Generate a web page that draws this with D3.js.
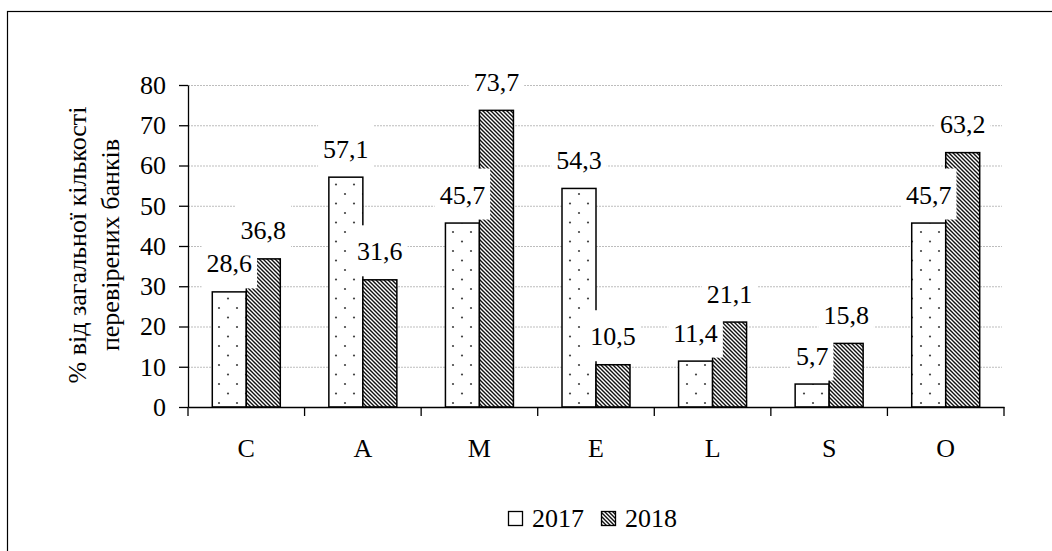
<!DOCTYPE html>
<html>
<head>
<meta charset="utf-8">
<script src="https://cdn.jsdelivr.net/npm/d3@7"></script>
<style>
  body { margin: 0; background: #fff; }
  svg { display: block; }
</style>
</head>
<body>
<div id="chart"></div>
<script>
var categories = ["C", "A", "M", "E", "L", "S", "O"];
var years = ["2017", "2018"];
var values2017 = [28.6, 57.1, 45.7, 54.3, 11.4, 5.7, 45.7];
var values2018 = [36.8, 31.6, 73.7, 10.5, 21.1, 15.8, 63.2];
var yTicks = [0, 10, 20, 30, 40, 50, 60, 70, 80];
var yTitle = ["% від загальної кількості", "перевірених банків"];

var width = 1052, height = 551;
var margins = {top: 85, right: 48, bottom: 144, left: 188};
var FONT = '"Liberation Serif", serif';
var fontSize = 26;

var svg = d3.select('#chart')
  .append('svg')
  .attr('width', width)
  .attr('height', height)
  .attr('font-family', FONT);

function serif(sel) {
  return sel.attr('font-family', FONT)
    .style('font-family', FONT)
    .style('font-size', fontSize + 'px')
    .attr('fill', '#000');
}

/* patterns: dots for 2017, diagonal hatch for 2018 */
var defs = svg.append('defs');
var dots = defs.append('pattern')
  .attr('id', 'dots')
  .attr('patternUnits', 'userSpaceOnUse')
  .attr('width', 18).attr('height', 19);
dots.append('rect').attr('width', 18).attr('height', 19).attr('fill', '#fff');
dots.append('circle').attr('cx', 3).attr('cy', 4).attr('r', 1.1).attr('fill', '#444');
dots.append('circle').attr('cx', 12).attr('cy', 13.5).attr('r', 1.1).attr('fill', '#444');

var hatch = defs.append('pattern')
  .attr('id', 'hatch')
  .attr('patternUnits', 'userSpaceOnUse')
  .attr('width', 4).attr('height', 4);
hatch.append('rect').attr('width', 4).attr('height', 4).attr('fill', '#fff');
hatch.append('path')
  .attr('d', 'M-1,-1 L5,5 M-1,3 L1,5 M3,-1 L5,1')
  .attr('stroke', '#111')
  .attr('stroke-width', 1.4);

var fills = {"2017": "url(#dots)", "2018": "url(#hatch)"};

/* outer frame */
svg.append('rect')
  .attr('x', 7.5).attr('y', 11.5)
  .attr('width', 1200).attr('height', 700)
  .attr('fill', 'none')
  .attr('stroke', '#000')
  .attr('stroke-width', 1.2);

var x0 = d3.scaleBand()
  .domain(categories)
  .range([margins.left, width - margins.right])
  .padding(0);

var groupWidth = 68;
var x1 = d3.scaleBand()
  .domain(years)
  .range([(x0.bandwidth() - groupWidth) / 2, (x0.bandwidth() + groupWidth) / 2]);

var y = d3.scaleLinear()
  .domain([0, 80])
  .range([height - margins.bottom, margins.top]);

/* gridlines */
svg.append('g')
  .selectAll('line')
  .data(yTicks.slice(1))
  .join('line')
  .attr('x1', margins.left)
  .attr('x2', width - margins.right - 2)
  .attr('y1', function(d) { return y(d) + 0.5; })
  .attr('y2', function(d) { return y(d) + 0.5; })
  .attr('stroke', '#bdbdbd')
  .attr('stroke-width', 1)
  .attr('stroke-dasharray', '2,1');

var rows = [];
categories.forEach(function(c, i) {
  rows.push({cat: c, year: "2017", value: values2017[i]});
  rows.push({cat: c, year: "2018", value: values2018[i]});
});

/* bars */
svg.append('g')
  .selectAll('rect')
  .data(rows)
  .join('rect')
  .attr('x', function(d) { return x0(d.cat) + x1(d.year); })
  .attr('y', function(d) { return y(d.value); })
  .attr('width', x1.bandwidth())
  .attr('height', function(d) { return y(0) - y(d.value); })
  .attr('fill', function(d) { return fills[d.year]; })
  .attr('stroke', '#000')
  .attr('stroke-width', 1.5);

/* y axis */
var yAxis = svg.append('g')
  .attr('transform', 'translate(' + margins.left + ',0)')
  .call(d3.axisLeft(y).tickValues(yTicks).tickSize(9).tickSizeOuter(0).tickPadding(13));
yAxis.attr('font-family', FONT).attr('font-size', fontSize);
yAxis.select('.domain').attr('stroke', '#000').attr('stroke-width', 1.3);
yAxis.selectAll('.tick line').attr('stroke', '#000').attr('stroke-width', 1.3);
serif(yAxis.selectAll('.tick text'));

/* x axis */
var xAxis = svg.append('g')
  .attr('transform', 'translate(0,' + y(0) + ')')
  .call(d3.axisBottom(x0).tickSize(0).tickSizeOuter(0).tickPadding(32));
xAxis.attr('font-family', FONT).attr('font-size', fontSize);
xAxis.select('.domain').attr('stroke', '#000').attr('stroke-width', 1.3);
serif(xAxis.selectAll('.tick text'));
xAxis.selectAll('.boundary')
  .data(d3.range(categories.length + 1))
  .join('line')
  .attr('class', 'boundary')
  .attr('x1', function(i) { return x0.range()[0] + i * x0.step(); })
  .attr('x2', function(i) { return x0.range()[0] + i * x0.step(); })
  .attr('y1', 0)
  .attr('y2', 9)
  .attr('stroke', '#000')
  .attr('stroke-width', 1.3);

/* data labels with white boxes, 2017 first then 2018 */
var fmt = function(v) { return d3.format('.1f')(v).replace('.', ','); };
var labelLayer = svg.append('g');
years.forEach(function(yr) {
  rows.filter(function(d) { return d.year === yr; }).forEach(function(d) {
    var g = labelLayer.append('g');
    var t = serif(g.append('text'))
      .attr('x', x0(d.cat) + x1(d.year) + x1.bandwidth() / 2)
      .attr('y', y(d.value) - 19.5)
      .attr('text-anchor', 'middle')
      .text(fmt(d.value));
    var bb = t.node().getBBox();
    g.insert('rect', 'text')
      .attr('x', bb.x - 5)
      .attr('y', bb.y - 12)
      .attr('width', bb.width + 10)
      .attr('height', bb.height + 22)
      .attr('fill', '#fff');
  });
});

/* y title */
var midY = (y(0) + y(80)) / 2;
yTitle.forEach(function(line, i) {
  serif(svg.append('text'))
    .attr('transform', 'translate(' + (77 + i * 33) + ',' + (midY - 1) + ') rotate(-90)')
    .attr('text-anchor', 'middle')
    .attr('dominant-baseline', 'central')
    .text(line);
});

/* legend */
var legend = svg.append('g').attr('transform', 'translate(508,511)');
var legendX = [0, 93];
years.forEach(function(yr, i) {
  legend.append('rect')
    .attr('x', legendX[i] + 0.5).attr('y', 0.5)
    .attr('width', 14).attr('height', 14)
    .attr('fill', yr === "2017" ? '#fff' : fills[yr])
    .attr('stroke', '#000')
    .attr('stroke-width', 1.3);
  serif(legend.append('text'))
    .attr('x', legendX[i] + 24)
    .attr('y', 16)
    .text(yr);
});
</script>
</body>
</html>
